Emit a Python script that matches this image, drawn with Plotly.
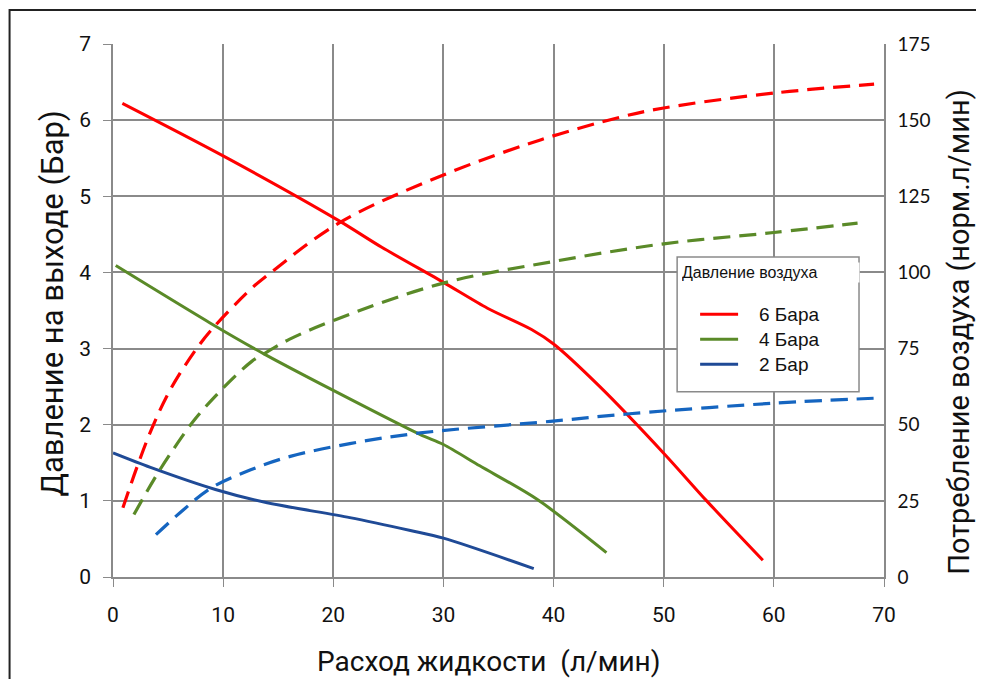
import plotly.graph_objects as go

# расход жидкости, л/мин -> давление на выходе, бар (сплошные линии)
p6_x = [0.85, 10, 20.5, 24.4, 30, 34, 38, 40, 44.2, 50.1, 53.9, 59]
p6_y = [6.22, 5.53, 4.68, 4.33, 3.87, 3.53, 3.25, 3.06, 2.50, 1.61, 1.0, 0.22]

p4_x = [0.25, 9, 13.7, 20, 27.9, 30, 33.3, 38.5, 44.8]
p4_y = [4.09, 3.32, 2.93, 2.45, 1.87, 1.74, 1.46, 1.02, 0.32]

p2_x = [0, 3.4, 9.3, 14, 21.5, 27, 30, 38.2]
p2_y = [1.63, 1.44, 1.15, 0.975, 0.78, 0.61, 0.51, 0.11]

# расход жидкости -> потребление воздуха, норм.л/мин (пунктир, правая ось)
a6_x = [0.9, 2.2, 3.6, 5.2, 7.3, 8.9, 12.5, 14, 20.5, 30, 38.8, 46.3, 50, 60, 69.1]
a6_y = [22.7, 36.3, 49.4, 61.5, 73.5, 81, 94.5, 99, 116.2, 132, 143.5, 151.2, 154, 158.9, 161.8]

a4_x = [1.9, 3.7, 5.25, 7.4, 9.85, 12.6, 13.7, 16, 20.2, 30, 40, 50, 60, 67.6]
a4_y = [20.5, 31.9, 40.7, 51.6, 61.5, 70.8, 73.3, 78, 84.5, 96.5, 103.6, 109.4, 113.1, 116.2]

a2_x = [3.9, 6.4, 8.9, 12.5, 16.1, 21.5, 27.9, 39.7, 46.9, 60.1, 69.8]
a2_y = [13.9, 22.1, 29.2, 35.2, 39.6, 43.8, 47.3, 51.1, 53.6, 57.1, 58.8]

series_names = ["6 Бара", "4 Бара", "2 Бар"]
solid_colors = ["#ff0000", "#5a8a28", "#1f4a96"]
dash_colors = ["#ff0000", "#5a8a28", "#1565c0"]

x_ticks = list(range(0, 71, 10))
left_ticks = list(range(0, 8))
right_ticks = list(range(0, 176, 25))

# target page is 984x687, the browser puts the figure 8px in from the corner
PAGE_W, PAGE_H, OFF = 984, 687, 8
W, H = PAGE_W - 2 * OFF, PAGE_H - 2 * OFF
# plot area in page pixels
L, R, T, B = 112.5, 884, 44, 577.3


def px(x):
    return (x - L) / (R - L)


def py(y):
    return (B - y) / (B - T)


NARROW = "Roboto, Liberation Sans, sans-serif"
ARIAL = "Liberation Sans, Arial, sans-serif"
GRID = "#8a8a8a"

fig = go.Figure()

solids = [(p6_x, p6_y), (p4_x, p4_y), (p2_x, p2_y)]
dashes = [(a6_x, a6_y), (a4_x, a4_y), (a2_x, a2_y)]

for (xs, ys), name, col in zip(dashes, series_names, dash_colors):
    fig.add_trace(go.Scatter(
        x=xs, y=ys, yaxis="y2", mode="lines", name=name,
        line=dict(color=col, width=3.2, dash="17px,9px", shape="spline", smoothing=1),
        showlegend=False,
    ))

for (xs, ys), name, col in zip(solids, series_names, solid_colors):
    fig.add_trace(go.Scatter(
        x=xs, y=ys, mode="lines", name=name,
        line=dict(color=col, width=3, shape="spline", smoothing=0.8),
        showlegend=False,
    ))

# outer frame
fig.add_shape(type="rect", xref="paper", yref="paper",
              x0=px(OFF + 1), x1=px(PAGE_W + 60), y0=py(PAGE_H + 60), y1=py(10),
              line=dict(color="#222222", width=2), fillcolor="rgba(0,0,0,0)")

# legend box (drawn by hand, like the original)
fig.add_shape(type="rect", xref="paper", yref="paper",
              x0=px(677), x1=px(859), y0=py(392), y1=py(257),
              line=dict(color="#8a8a8a", width=1.5), fillcolor="white", layer="above")
fig.add_annotation(xref="paper", yref="paper", x=px(680), y=py(273),
                   xanchor="left", yanchor="middle", showarrow=False,
                   text="Давление воздуха", bgcolor="white", width=176, align="left",
                   font=dict(family=ARIAL, size=16, color="#111"))
for i, (name, col) in enumerate(zip(series_names, solid_colors)):
    yy = py(314.5 + i * 25)
    fig.add_shape(type="line", xref="paper", yref="paper",
                  x0=px(700), x1=px(738), y0=yy, y1=yy,
                  line=dict(color=col, width=3), layer="above")
    fig.add_annotation(xref="paper", yref="paper", x=px(757), y=yy,
                       xanchor="left", yanchor="middle", showarrow=False, text=name,
                       font=dict(family=ARIAL, size=19, color="#111"))

# axis titles
fig.add_annotation(xref="paper", yref="paper", x=px(489), y=py(662), showarrow=False,
                   xanchor="center", yanchor="middle",
                   text="Расход жидкости  (л/мин)",
                   font=dict(family=NARROW, size=28, color="#111"))
fig.add_annotation(xref="paper", yref="paper", x=px(52), y=py(304), showarrow=False,
                   xanchor="center", yanchor="middle",
                   text="Давление на выходе (Бар)", textangle=-90,
                   font=dict(family=NARROW, size=31, color="#111"))
fig.add_annotation(xref="paper", yref="paper", x=px(959), y=py(332), showarrow=False,
                   xanchor="center", yanchor="middle",
                   text="Потребление воздуха (норм.л/мин)", textangle=-90,
                   font=dict(family=NARROW, size=29, color="#111"))

fig.update_layout(
    width=W, height=H,
    margin=dict(l=L - OFF, r=W - (R - OFF), t=T - OFF, b=H - (B - OFF)),
    paper_bgcolor="white", plot_bgcolor="white",
    showlegend=False,
    xaxis=dict(
        range=[0, 70], tickvals=x_ticks, showgrid=True, gridcolor=GRID, gridwidth=1.5,
        zeroline=False, showline=True, linecolor=GRID, linewidth=1.5,
        ticks="outside", ticklen=8, tickcolor=GRID, ticklabelstandoff=10,
        tickfont=dict(family=NARROW, size=21, color="#111"),
    ),
    yaxis=dict(
        range=[0, 7], tickvals=left_ticks, showgrid=True, gridcolor=GRID, gridwidth=1.5,
        zeroline=False, showline=True, linecolor=GRID, linewidth=1.5,
        ticks="outside", ticklen=8, tickcolor=GRID, ticklabelstandoff=8,
        tickfont=dict(family=NARROW, size=21, color="#111"),
    ),
    yaxis2=dict(
        range=[0, 175], tickvals=right_ticks, overlaying="y", side="right",
        showgrid=False, zeroline=False, showline=True, linecolor=GRID, linewidth=1.5,
        ticks="", ticklabelstandoff=8,
        tickfont=dict(family="Lato, Open Sans, sans-serif", size=19, color="#111"),
    ),
)

fig.write_html("out.html")
